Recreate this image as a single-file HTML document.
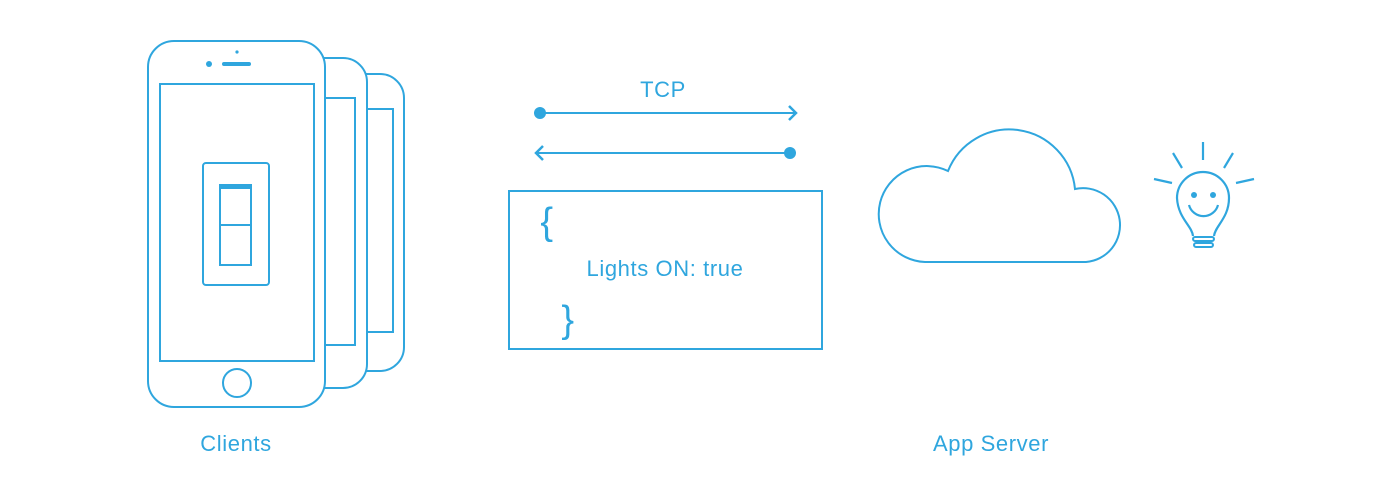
<!DOCTYPE html>
<html><head><style>
body{margin:0;background:#fff;}
svg{display:block}
text{font-family:"Liberation Sans",sans-serif;fill:#2fa6de;font-size:22px;letter-spacing:0.6px}
</style></head><body>
<svg width="1400" height="500" viewBox="0 0 1400 500">
<g fill="none" stroke="#2fa6de" stroke-width="2">
<path d="M355 74 H380 a24 24 0 0 1 24 24 V347 a24 24 0 0 1 -24 24 H355"/>
<rect x="355" y="109" width="38" height="223"/>
<path d="M320 58 H343 a24 24 0 0 1 24 24 V364 a24 24 0 0 1 -24 24 H320" fill="#fff"/>
<rect x="320" y="98" width="35" height="247" fill="#fff"/>
<rect x="148" y="41" width="177" height="366" rx="26" fill="#fff"/>
<rect x="160" y="84" width="154" height="277"/>
<circle cx="237" cy="383" r="14"/>
<rect x="203" y="163" width="66" height="122" rx="3"/>
<rect x="220" y="185" width="31" height="80"/>
<line x1="220" y1="225" x2="251" y2="225"/>
<line x1="540" y1="113" x2="796" y2="113"/>
<polyline points="789,106 796,113 789,120" stroke-width="2.5"/>
<line x1="536" y1="153" x2="790" y2="153"/>
<polyline points="543,146 536,153 543,160" stroke-width="2.5"/>
<rect x="509" y="191" width="313" height="158"/>
<path d="M925 262 A48 48 0 1 1 948 171 A66 66 0 0 1 1075 189 A37 37 0 1 1 1086 262 Z"/>
<path d="M1193 236 C1192 226 1178 218 1177 198 a26 26 0 1 1 52 0 C1229 218 1215 226 1214 236" stroke-width="2.2"/>
<path d="M1189 205 a15 15 0 0 0 29 0" stroke-width="2.2"/>
<rect x="1193" y="237" width="21" height="4" rx="2"/>
<rect x="1194" y="243" width="19" height="4" rx="2"/>
<line x1="1203" y1="142" x2="1203" y2="160" stroke-width="2.2"/>
<line x1="1173" y1="153" x2="1182" y2="168" stroke-width="2.2"/>
<line x1="1233" y1="153" x2="1224" y2="168" stroke-width="2.2"/>
<line x1="1154" y1="179" x2="1172" y2="183" stroke-width="2.2"/>
<line x1="1254" y1="179" x2="1236" y2="183" stroke-width="2.2"/>
</g>
<g fill="#2fa6de">
<rect x="220" y="184" width="31" height="5"/>
<circle cx="209" cy="64" r="3"/>
<rect x="222" y="62" width="29" height="4" rx="2"/>
<circle cx="237" cy="52" r="1.6"/>
<circle cx="540" cy="113" r="6"/>
<circle cx="790" cy="153" r="6"/>
<circle cx="1194" cy="195" r="3"/>
<circle cx="1213" cy="195" r="3"/>
</g>
<text x="663" y="97" text-anchor="middle">TCP</text>
<text x="547" y="234" text-anchor="middle" style="font-size:38px">{</text>
<text x="568" y="332" text-anchor="middle" style="font-size:38px">}</text>
<text x="665" y="276" text-anchor="middle">Lights ON: true</text>
<text x="236" y="451" text-anchor="middle">Clients</text>
<text x="991" y="451" text-anchor="middle">App Server</text>
</svg>
</body></html>
